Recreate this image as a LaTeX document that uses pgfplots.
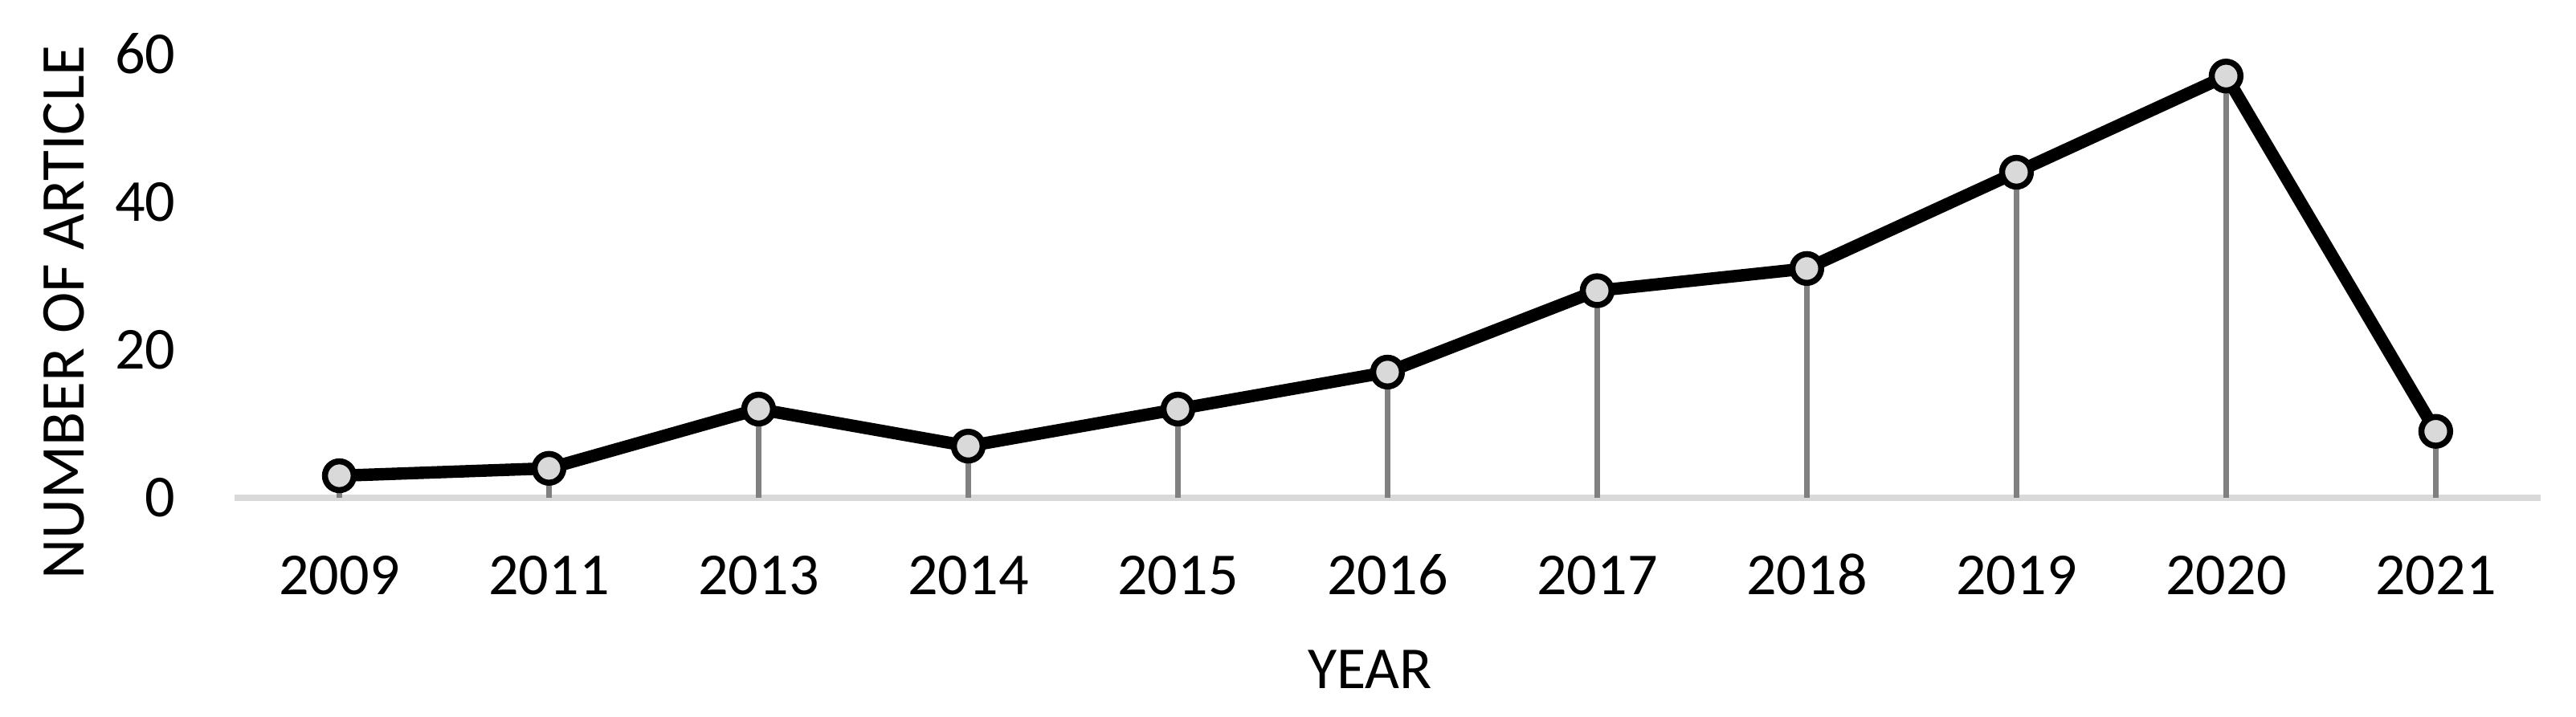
\documentclass[border=0pt]{standalone}
\usepackage{pgfplots}
\pgfplotsset{compat=1.18}
\usepackage{fontspec}
\setmainfont{Carlito}
\definecolor{axgray}{HTML}{D9D9D9}
\definecolor{stemgray}{HTML}{808080}
\definecolor{markfill}{HTML}{D9D9D9}
\begin{document}
\begin{tikzpicture}
\useasboundingbox (-70.1pt,-65.3pt) rectangle (699.9pt,148.9pt);
\begin{axis}[
  at={(0,0)}, anchor=south west,
  scale only axis,
  width=689.3pt, height=132.8pt,
  xmin=-0.5, xmax=10.5, ymin=0, ymax=60,
  clip=false,
  axis x line*=bottom,
  axis y line*=left,
  x axis line style={draw=axgray, line width=1.8pt, -},
  y axis line style={draw=none},
  xtick={0,1,2,3,4,5,6,7,8,9,10},
  xticklabels={2009,2011,2013,2014,2015,2016,2017,2018,2019,2020,2021},
  ytick={0,20,40,60},
  major tick length=0pt,
  tick style={draw=none},
  /pgf/number format/assume math mode=true,
  ticklabel style={font=\fontsize{17.8}{21}\selectfont},
  yticklabel style={anchor=east, inner sep=0pt, xshift=-17.5pt},
  xticklabel style={anchor=base, inner sep=0pt, yshift=-28.8pt},
  xlabel={YEAR},
  ylabel={NUMBER OF ARTICLE},
  xlabel style={font=\fontsize{17.8}{21}\selectfont, at={(axis description cs:0.5,0)}, anchor=base, inner sep=0pt, yshift=-56.9pt, xshift=-5.3pt},
  ylabel style={font=\fontsize{18.6}{21}\selectfont, at={(axis description cs:-0.0654,0.418)}, anchor=base, inner sep=0pt},
]
\addplot[black, line width=3.7pt, mark=none]
  coordinates {(0,3) (1,4) (2,12) (3,7) (4,12) (5,17) (6,28) (7,31) (8,44) (9,57) (10,9)};
\addplot[only marks, mark=*, mark size=4.3pt,
  mark options={draw=black, fill=markfill, line width=1.8pt}]
  coordinates {(0,3) (1,4) (2,12) (3,7) (4,12) (5,17) (6,28) (7,31) (8,44) (9,57) (10,9)};
\addplot[ycomb, stemgray, line width=1.8pt, mark=none]
  coordinates {(0,3) (1,4) (2,12) (3,7) (4,12) (5,17) (6,28) (7,31) (8,44) (9,57) (10,9)};
\end{axis}
\end{tikzpicture}
\end{document}
